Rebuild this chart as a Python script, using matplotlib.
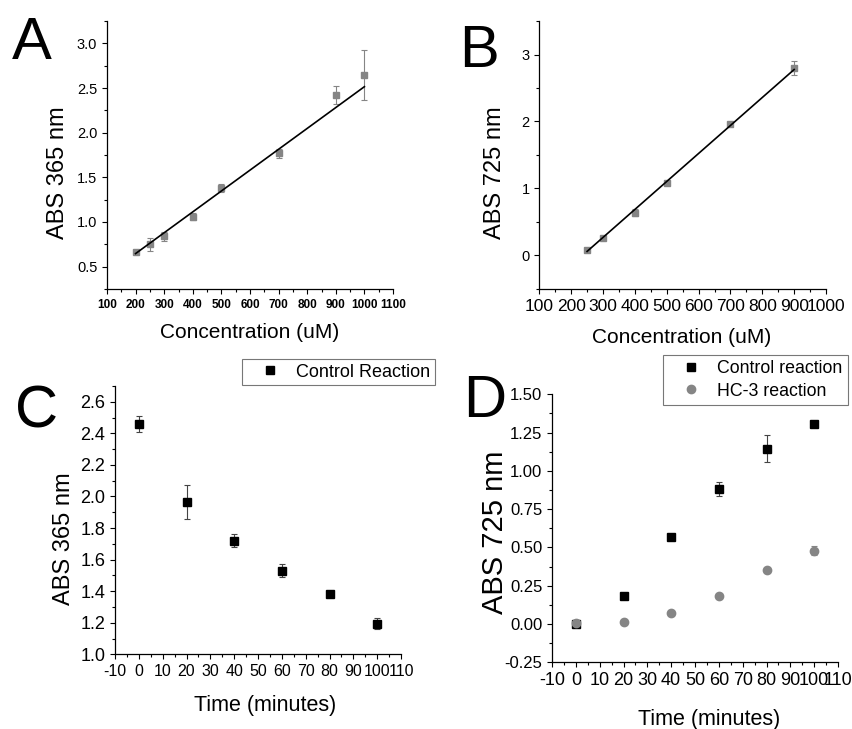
import matplotlib
matplotlib.use("Agg")
import matplotlib.pyplot as plt
import numpy as np
from matplotlib.ticker import MultipleLocator, FormatStrFormatter

# ---------------- data ----------------
a_conc = [200, 250, 300, 400, 500, 700, 900, 1000]
a_abs = [0.66, 0.75, 0.84, 1.06, 1.38, 1.77, 2.42, 2.65]
a_err = [0.02, 0.07, 0.05, 0.04, 0.04, 0.05, 0.10, 0.28]

b_conc = [250, 300, 400, 500, 700, 900]
b_abs = [0.08, 0.26, 0.64, 1.08, 1.96, 2.80]
b_err = [0.02, 0.02, 0.05, 0.03, 0.03, 0.11]

c_time = [0, 20, 40, 60, 80, 100]
c_abs = [2.46, 1.965, 1.72, 1.53, 1.385, 1.195]
c_err = [0.05, 0.105, 0.04, 0.04, 0.01, 0.035]

d_time = [0, 20, 40, 60, 80, 100]
d_control = [0.0, 0.18, 0.565, 0.88, 1.145, 1.305]
d_control_err = [0.01, 0.01, 0.01, 0.045, 0.09, 0.01]
d_hc3 = [0.005, 0.015, 0.075, 0.185, 0.355, 0.48]
d_hc3_err = [0.01, 0.01, 0.01, 0.01, 0.01, 0.03]

GRAY = "#858585"
NARROW = ["Liberation Sans Narrow", "Liberation Sans", "DejaVu Sans"]
SANS = ["Liberation Sans", "DejaVu Sans"]

plt.rcParams["font.family"] = SANS
plt.rcParams["axes.unicode_minus"] = False

fig = plt.figure(figsize=(8.52, 7.29), dpi=100)
W, H = 852.0, 729.0


def make_ax(left, top, right, bottom):
    return fig.add_axes([left / W, 1 - bottom / H, (right - left) / W, (bottom - top) / H])


def style(ax, xt_size, yt_size, xbold=False):
    for s in ["top", "right"]:
        ax.spines[s].set_visible(False)
    for s in ["left", "bottom"]:
        ax.spines[s].set_linewidth(0.9)
    ax.tick_params(which="major", direction="out", length=3.5, width=0.8)
    ax.tick_params(which="minor", direction="out", length=2.2, width=0.8)
    for lab in ax.get_xticklabels():
        lab.set_family(NARROW)
        lab.set_fontsize(xt_size)
        if xbold:
            lab.set_fontweight("bold")
    for lab in ax.get_yticklabels():
        lab.set_family(NARROW)
        lab.set_fontsize(yt_size)


def labels(ax, xl, yl, xs, ys, xpos, ypos):
    ax.set_xlabel(xl, fontsize=xs, family=SANS)
    ax.set_ylabel(yl, fontsize=ys, family=SANS)
    ax.xaxis.set_label_coords(*xpos)
    ax.yaxis.set_label_coords(*ypos)
    ax.xaxis.label.set_verticalalignment("center")
    ax.yaxis.label.set_verticalalignment("center")


# ---------------- A ----------------
axA = make_ax(107, 21, 393, 289)
axA.errorbar(a_conc, a_abs, yerr=a_err, fmt="s", color=GRAY, ms=4, ecolor=GRAY,
             elinewidth=0.8, capsize=2, capthick=0.8, zorder=2)
pa = np.polyfit(a_conc, a_abs, 1, w=1 / np.array(a_err))
xa = np.array([min(a_conc), max(a_conc)])
axA.plot(xa, np.polyval(pa, xa), color="black", lw=1.2, zorder=3)
axA.set_xlim(100, 1100)
axA.set_ylim(0.25, 3.25)
axA.xaxis.set_major_locator(MultipleLocator(100))
axA.xaxis.set_minor_locator(MultipleLocator(50))
axA.yaxis.set_major_locator(MultipleLocator(0.5))
axA.yaxis.set_minor_locator(MultipleLocator(0.25))
axA.yaxis.set_major_formatter(FormatStrFormatter("%.1f"))
style(axA, 8.5, 10.5, xbold=True)
labels(axA, "Concentration (uM)", "ABS 365 nm", 15, 17, (0.498, -0.162), (-0.173, 0.433))

# ---------------- B ----------------
axB = make_ax(539.3, 21, 826, 289)
axB.errorbar(b_conc, b_abs, yerr=b_err, fmt="s", color=GRAY, ms=4, ecolor=GRAY,
             elinewidth=0.8, capsize=2, capthick=0.8, zorder=2)
pb = np.polyfit(b_conc, b_abs, 1, w=1 / np.array(b_err))
xb = np.array([min(b_conc), max(b_conc)])
axB.plot(xb, np.polyval(pb, xb), color="black", lw=1.2, zorder=3)
axB.set_xlim(100, 1000)
axB.set_ylim(-0.5, 3.5)
axB.xaxis.set_major_locator(MultipleLocator(100))
axB.xaxis.set_minor_locator(MultipleLocator(50))
axB.yaxis.set_major_locator(MultipleLocator(1))
axB.yaxis.set_minor_locator(MultipleLocator(0.5))
style(axB, 12.5, 10.5)
labels(axB, "Concentration (uM)", "ABS 725 nm", 15, 17, (0.496, -0.181), (-0.155, 0.433))

# ---------------- C ----------------
axC = make_ax(115, 386, 401, 654.3)
axC.errorbar(c_time, c_abs, yerr=c_err, fmt="s", color="black", ms=5.5, ecolor="#444444",
             elinewidth=0.8, capsize=2, capthick=0.8, label="Control Reaction")
axC.set_xlim(-10, 110)
axC.set_ylim(1.0, 2.7)
axC.xaxis.set_major_locator(MultipleLocator(10))
axC.xaxis.set_minor_locator(MultipleLocator(5))
axC.yaxis.set_major_locator(MultipleLocator(0.2))
axC.yaxis.set_minor_locator(MultipleLocator(0.1))
axC.yaxis.set_major_formatter(FormatStrFormatter("%.1f"))
style(axC, 11.5, 13)
labels(axC, "Time (minutes)", "ABS 365 nm", 15.5, 17, (0.524, -0.189), (-0.178, 0.43))
hC, lC = axC.get_legend_handles_labels()
legC = axC.legend([h[0] for h in hC], lC, loc="upper left", bbox_to_anchor=(242 / W, 1 - 359 / H),
                  bbox_transform=fig.transFigure, frameon=True, fancybox=False,
                  edgecolor="#555555", fontsize=13, borderpad=0.25, handlelength=2.6,
                  handletextpad=0.15, borderaxespad=0)
legC.get_frame().set_linewidth(0.8)

# ---------------- D ----------------
axD = make_ax(552, 394.3, 838, 662.3)
axD.errorbar(d_time, d_control, yerr=d_control_err, fmt="s", color="black", ms=5.5,
             ecolor="#444444", elinewidth=0.8, capsize=2, capthick=0.8, label="Control reaction",
             zorder=2)
axD.errorbar(d_time, d_hc3, yerr=d_hc3_err, fmt="o", color=GRAY, ms=6, ecolor=GRAY,
             elinewidth=0.8, capsize=2, capthick=0.8, label="HC-3 reaction", zorder=3)
axD.set_xlim(-10, 110)
axD.set_ylim(-0.25, 1.5)
axD.xaxis.set_major_locator(MultipleLocator(10))
axD.xaxis.set_minor_locator(MultipleLocator(5))
axD.yaxis.set_major_locator(MultipleLocator(0.25))
axD.yaxis.set_minor_locator(MultipleLocator(0.125))
axD.yaxis.set_major_formatter(FormatStrFormatter("%.2f"))
style(axD, 13, 12)
labels(axD, "Time (minutes)", "ABS 725 nm", 15.5, 21, (0.551, -0.215), (-0.199, 0.484))
hD, lD = axD.get_legend_handles_labels()
legD = axD.legend([h[0] for h in hD], lD, loc="upper left", bbox_to_anchor=(663 / W, 1 - 355 / H),
                  bbox_transform=fig.transFigure, frameon=True, fancybox=False,
                  edgecolor="#555555", fontsize=12.8, borderpad=0.3, handlelength=2.6,
                  handletextpad=0.15, borderaxespad=0, labelspacing=0.3)
legD.get_frame().set_linewidth(0.8)

# ---------------- panel letters ----------------
for letter, x, y in [("A", 12, 59), ("B", 459, 67), ("C", 15, 428), ("D", 463, 417)]:
    fig.text(x / W, 1 - y / H, letter, fontsize=43, family=SANS, ha="left", va="baseline")

fig.savefig("out.png", dpi=100)
